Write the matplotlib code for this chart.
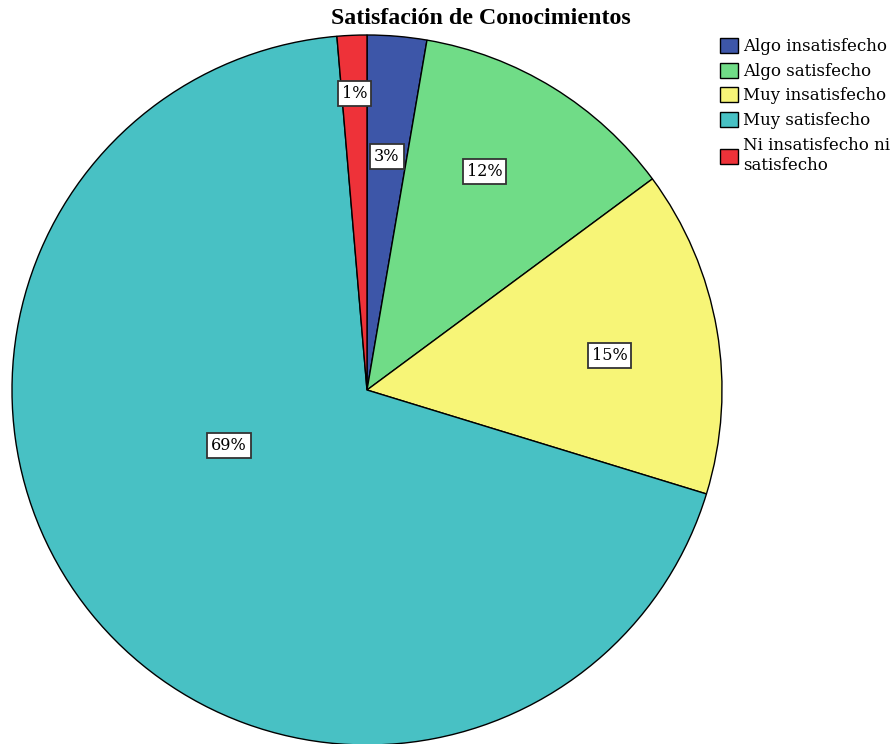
import numpy as np
import matplotlib.pyplot as plt

plt.rcParams['font.family'] = ['DejaVu Serif', 'Liberation Serif']

categories = ["Algo insatisfecho", "Algo satisfecho", "Muy insatisfecho",
              "Muy satisfecho", "Ni insatisfecho ni\nsatisfecho"]
counts = [2, 9, 11, 51, 1]
colors = ["#3d56a8", "#70dc87", "#f7f577", "#48c1c4", "#ee3239"]

# label placement (fraction of radius, angle shift in degrees)
label_r = [0.66, 0.70, 0.69, 0.42, 0.835]
label_shift = [0, -3.4, 1.7, 17, 0]

fig = plt.figure(figsize=(8.93, 7.44), dpi=100)
ax = fig.add_axes([12/893, -1/744, 710/893, 710/744])

wedges, texts = ax.pie(counts, colors=colors, startangle=90, counterclock=False,
                       radius=1, wedgeprops=dict(edgecolor="black", linewidth=1))

total = sum(counts)
for w, c, r, s in zip(wedges, counts, label_r, label_shift):
    mid = np.deg2rad((w.theta1 + w.theta2) / 2 - s)
    ax.text(r * np.cos(mid), r * np.sin(mid), f"{round(100 * c / total)}%",
            ha="center", va="center", fontsize=11.5,
            bbox=dict(boxstyle="square,pad=0.25", fc="white", ec="#333333", lw=1.3))

ax.set_xlim(-1, 1)
ax.set_ylim(-1, 1)
ax.set_aspect("equal")
ax.axis("off")

fig.text(481/893, 1 - 18/744, "Satisfación de Conocimientos", ha="center", va="center",
         fontsize=17.2, fontweight="bold", family="Liberation Serif")

leg = fig.legend(wedges, categories, loc="upper left", bbox_to_anchor=(720/893, 1 - 38/744),
                 frameon=False, fontsize=12, handlelength=1.05, handleheight=1.0,
                 handletextpad=0.35, labelspacing=0.45, borderaxespad=0, borderpad=0)
for t in leg.get_texts():
    t.set_linespacing(1.25)

fig.savefig("out.png", dpi=100)
